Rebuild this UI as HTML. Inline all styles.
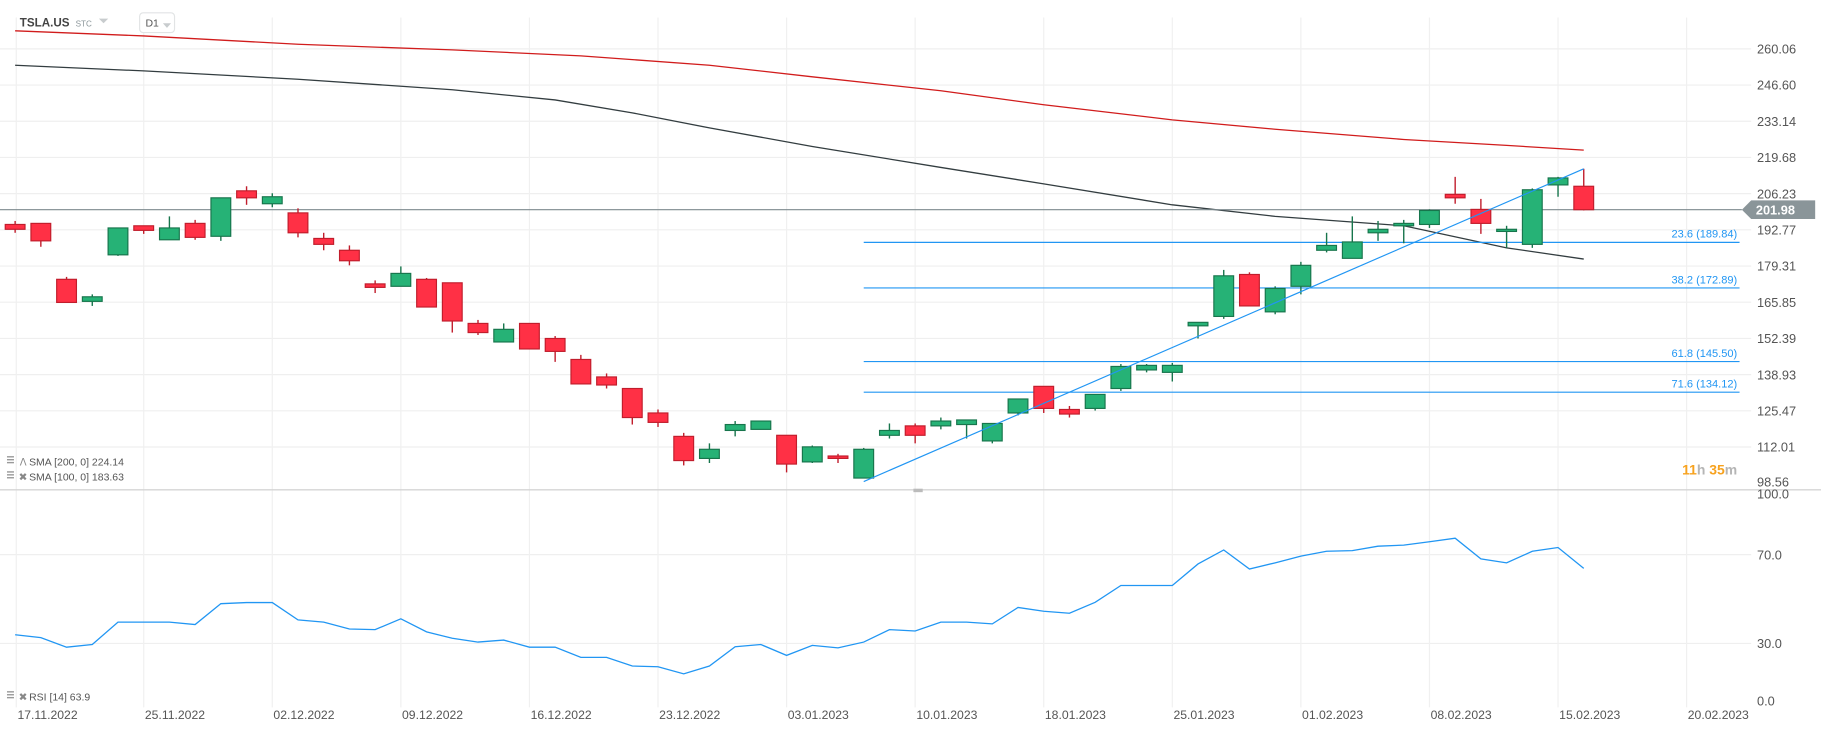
<!DOCTYPE html>
<html><head><meta charset="utf-8">
<style>
html,body{margin:0;padding:0;background:#fff;width:1821px;height:730px;overflow:hidden;}
svg{display:block;font-family:"Liberation Sans",sans-serif;}
</style></head>
<body>
<svg id="chart" width="1821" height="730" viewBox="0 0 1565 627.4" preserveAspectRatio="none" xmlns="http://www.w3.org/2000/svg">
<g id="grid"></g>
<g id="marks"></g>
<g id="labels"></g>
<g>
<text x="17" y="23" font-size="10" font-weight="bold" fill="#444">TSLA.US</text>
<text x="65" y="23" font-size="7" fill="#8a9599">STC</text>
<path d="M85 16 L93 16 L89 20 Z" fill="#c8ccce"/>
<rect x="120" y="11" width="30" height="17" rx="3" fill="#fff" stroke="#e2e4e5"/>
<text x="125" y="23" font-size="9" fill="#555">D1</text>
<path d="M140 20 L147 20 L143.5 24 Z" fill="#c8ccce"/>
</g>
<g>
<rect x="6" y="392" width="6" height="1.2" fill="#999"/><rect x="6" y="394.5" width="6" height="1.2" fill="#999"/><rect x="6" y="397" width="6" height="1.2" fill="#999"/>
<text x="17" y="400" font-size="8.5" fill="#888">ᐱ</text>
<text x="25" y="400" font-size="9" fill="#555">SMA [200, 0]  224.14</text>
<rect x="6" y="405" width="6" height="1.2" fill="#999"/><rect x="6" y="407.5" width="6" height="1.2" fill="#999"/><rect x="6" y="410" width="6" height="1.2" fill="#999"/>
<text x="16" y="413" font-size="9" fill="#888">✖</text>
<text x="25" y="413" font-size="9" fill="#555">SMA [100, 0]  183.63</text>
<rect x="6" y="594" width="6" height="1.2" fill="#999"/><rect x="6" y="596.5" width="6" height="1.2" fill="#999"/><rect x="6" y="599" width="6" height="1.2" fill="#999"/>
<text x="16" y="602" font-size="9" fill="#888">✖</text>
<text x="25" y="602" font-size="9" fill="#555">RSI [14]  63.9</text>
</g>
<text x="1493" y="408" font-size="12" font-weight="bold" text-anchor="end"><tspan fill="#f7a21e">11</tspan><tspan fill="#b5b5b5">h </tspan><tspan fill="#f7a21e">35</tspan><tspan fill="#b5b5b5">m</tspan></text>
</svg>
<script>
const priceTicks = [260.06,246.60,233.14,219.68,206.23,192.77,179.31,165.85,152.39,138.93,125.47,112.01,98.56];
const rsiTicks = [100,70,30,0];
const dateLabels = ["17.11.2022","25.11.2022","02.12.2022","09.12.2022","16.12.2022","23.12.2022","03.01.2023","10.01.2023","18.01.2023","25.01.2023","01.02.2023","08.02.2023","15.02.2023","20.02.2023"];
const dateIdx = [0,5,10,15,20,25,30,35,40,45,50,55,60,65];
const opens  = [196.5,196.9,176.1,167.9,185.2,196.0,190.8,196.9,192.1,209.0,204.2,200.8,191.3,186.9,174.4,173.5,176.1,174.8,159.7,152.8,159.7,154.1,146.3,139.8,135.5,126.4,117.7,109.5,119.9,120.3,118.1,108.2,110.4,102.2,118.1,121.6,121.6,122.1,116.0,126.4,136.3,127.7,128.1,135.5,142.4,141.5,158.8,162.3,177.9,164.0,173.5,186.9,183.9,193.4,196.0,196.5,207.7,202.1,193.9,189.1,211.2,210.7];
const highs  = [197.8,196.9,177.0,170.5,195.2,196.0,199.5,198.2,206.4,210.7,208.1,202.5,193.4,188.7,175.7,180.9,176.6,174.8,161.0,159.7,159.7,155.0,148.0,141.1,135.5,127.7,119.0,115.1,123.4,123.4,118.1,114.3,111.2,113.4,122.5,122.5,124.7,123.8,122.5,131.6,136.3,129.0,133.3,144.6,144.6,145.0,160.1,179.6,178.7,173.5,182.6,193.4,199.5,197.8,198.2,202.1,214.2,206.0,196.0,209.9,214.2,217.2];
const lows   = [193.4,188.2,167.5,166.2,184.8,193.0,190.8,190.8,190.4,203.8,202.9,191.7,186.9,181.3,171.0,173.5,165.8,156.3,155.4,152.8,150.2,145.4,137.2,135.5,122.1,121.2,106.9,107.8,117.7,120.3,104.3,107.8,107.8,102.2,116.9,115.1,120.3,116.9,115.1,125.5,126.4,124.7,127.3,134.6,141.5,138.1,154.1,161.4,166.2,163.1,170.5,186.1,183.9,190.4,189.5,195.2,204.2,193.0,187.8,187.8,206.8,201.7];
const closes = [194.7,190.4,167.5,169.6,195.2,194.3,195.2,191.7,206.4,206.4,206.8,193.4,189.1,183.0,173.1,178.3,165.8,160.6,156.3,157.5,150.2,149.3,137.2,136.8,124.7,122.9,108.7,112.9,122.1,123.4,107.4,113.8,109.5,112.9,119.9,118.1,123.4,123.8,122.5,131.6,128.1,126.0,133.3,143.7,144.1,144.1,160.1,177.4,166.2,172.7,181.3,188.7,190.0,194.7,196.9,201.7,206.4,196.9,194.7,209.4,213.8,201.98];
const sma200Idx = [0,5,11,17,22,27,31,36,40,45,49,54,58,61];
const sma200Val = [268.5,266.6,263.5,261.4,259.2,255.7,251.4,246.2,241.0,235.4,231.9,228.1,225.9,224.14];
const sma100Idx = [0,5,11,17,21,24,27,31,36,40,45,49,54,58,61];
const sma100Val = [255.7,253.6,250.5,246.6,242.8,238.0,232.4,225.5,217.7,211.6,203.8,199.5,196.0,187.8,183.63];
const rsiVal = [33.9,32.6,28.3,29.5,39.6,39.6,39.6,38.5,47.9,48.4,48.4,40.6,39.6,36.5,36.2,41.1,35.2,32.3,30.6,31.5,28.3,28.3,23.7,23.7,19.8,19.5,16.3,19.8,28.5,29.5,24.6,29.1,28.0,30.6,36.2,35.6,39.6,39.6,38.8,46.2,44.5,43.6,48.5,56.1,56.1,56.1,65.8,72.1,63.5,66.3,69.3,71.5,71.8,73.8,74.3,75.8,77.4,68.1,66.3,71.5,73.2,63.8];
const fibLevels = [23.6,38.2,61.8,71.6];
const fibPrices = [189.84,172.89,145.50,134.12];
const trendStart = [33, 100.9];
const trendEnd = [61, 217.2];
const lastPrice = 201.98;

const NS = "http://www.w3.org/2000/svg";
const X = i => 13 + i * 22.1;
const Y = p => 46 + (260.06 - p) * 2.3113;
const R = v => 610.2 - 1.9075 * v;
function mk(tag, attrs, parent){const e=document.createElementNS(NS,tag);for(const k in attrs)e.setAttribute(k,attrs[k]);parent.appendChild(e);return e;}
const grid=document.getElementById('grid'), marks=document.getElementById('marks'), labels=document.getElementById('labels');

priceTicks.forEach(p=>{
  const y=Y(p)-4;
  if(p>99){const l=mk('line',{x1:0,x2:1505,y1:y,y2:y,stroke:'#efefef','stroke-width':1},grid);
  
  }
  const t=mk('text',{x:1510,y:Y(p)+(p<99?-1:0),'font-size':11,fill:'#555'},labels);
  t.textContent=p.toFixed(2);
  
  
});
rsiTicks.forEach(v=>{
  const y=R(v);
  if(v>0&&v<100){const l=mk('line',{x1:0,x2:1505,y1:y,y2:y,stroke:'#efefef','stroke-width':1},grid);
  
  }
  const t=mk('text',{x:1510,y:v==100?y+9:(v==0?y-4:y+4),'font-size':11,fill:'#555'},labels);
  t.textContent=v.toFixed(1);
  
  
});
dateLabels.forEach((d,k)=>{
  const x=X(dateIdx[k])+ (k==0?1:0);
  const l=mk('line',{x1:x,x2:x,y1:15,y2:608,stroke:'#f0f0f0','stroke-width':1},grid);
  
  
  const t=mk('text',{x:x+1,y:618,'font-size':10.5,fill:'#555'},labels);
  t.textContent=d;
  
  
});
const sep=mk('line',{x1:0,x2:1565,y1:421,y2:421,stroke:'#d5d5d5','stroke-width':1.2},grid);


const hnd=mk('rect',{x:785,y:420,width:8,height:3,fill:'#bbb'},grid);



function poly(idx,val,color,name){
  const pts=idx.map((i,k)=>X(i)+','+Y(val[k])).join(' ');
  const e=mk('polyline',{points:pts,fill:'none',stroke:color,'stroke-width':1.1},marks);
  
  
}
poly(sma200Idx,sma200Val,'#d11c1c','sma200-line');
poly(sma100Idx,sma100Val,'#333d40','sma100-line');

fibPrices.forEach((p,k)=>{
  const y=Y(p);
  const l=mk('line',{x1:X(33),x2:1495,y1:y,y2:y,stroke:'#2196f3','stroke-width':1},marks);
  
  
  const t=mk('text',{x:1493,y:y-4,'font-size':9.5,fill:'#2196f3','text-anchor':'end'},labels);
  t.textContent=fibLevels[k].toFixed(1)+' ('+p.toFixed(2)+')';
  
  
});

const lp=mk('line',{x1:0,x2:1497,y1:Y(lastPrice),y2:Y(lastPrice),stroke:'#7d8a8e','stroke-width':1},marks);



opens.forEach((o,i)=>{
  const c=closes[i], up=c>=o, x=X(i);
  const fill=up?'#26b276':'#ff3045', st=up?'#17754c':'#c11d2c';
  const w=mk('line',{x1:x,x2:x,y1:Y(highs[i]),y2:Y(lows[i]),stroke:st,'stroke-width':1.2},marks);
  
  
  const top=Y(Math.max(o,c)), bot=Y(Math.min(o,c));
  const b=mk('rect',{x:x-8.5,y:top,width:17,height:Math.max(bot-top,1.5),fill:fill,stroke:st,'stroke-width':1},marks);
  
  
});

const tl=mk('line',{x1:X(trendStart[0]),y1:Y(trendStart[1]),x2:X(trendEnd[0]),y2:Y(trendEnd[1]),stroke:'#2196f3','stroke-width':1},marks);



const rpts=rsiVal.map((v,i)=>X(i)+','+R(v)).join(' ');
const rl=mk('polyline',{points:rpts,fill:'none',stroke:'#2196f3','stroke-width':1.1},marks);



const yl=Y(lastPrice);
const tag=mk('path',{d:`M1497 ${yl} L1505 ${yl-8} L1560 ${yl-8} L1560 ${yl+8} L1505 ${yl+8} Z`,fill:'#8a9599'},labels);


const tt=mk('text',{x:1509,y:yl+4,'font-size':11,'font-weight':'bold',fill:'#fff'},labels);
tt.textContent=lastPrice.toFixed(2);


</script>
</body></html>
